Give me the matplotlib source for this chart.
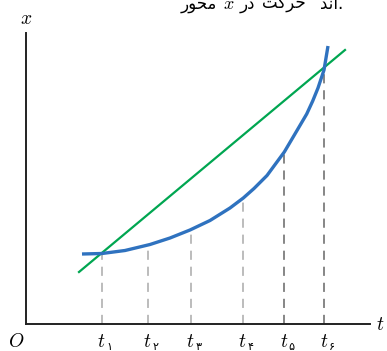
import matplotlib
matplotlib.use('Agg')
import matplotlib.pyplot as plt

plt.rcParams['mathtext.fontset'] = 'cm'

# curve x(t) (arbitrary units, origin at O)
curve_t = [5.6, 7.6, 9.9, 12.4, 14.4, 16.4, 18.4, 20.4, 21.73, 22.8, 24.1,
           25.83, 27.07, 28.07, 28.67, 29.2, 29.8, 30.2]
curve_x = [7.0, 7.05, 7.35, 7.95, 8.6, 9.4, 10.35, 11.6, 12.6, 13.55, 14.85,
           17.2, 19.3, 21.0, 22.3, 23.6, 25.4, 27.8]

# secant line end points
line_t = [5.3, 31.9]
line_x = [5.2, 27.4]

# marked instants and the curve height above each
tick_t = [7.57, 12.17, 16.47, 21.67, 25.83, 29.8]
tick_h = [7.05, 7.9, 9.45, 12.6, 17.2, 25.4]
tick_sub = ['۱', '۲', '۳', '۴', '۵', '۶']
dash_col = ['#aaaaaa', '#aaaaaa', '#aaaaaa', '#aaaaaa', '#666666', '#666666']

# caption fragment cut by the top edge (presentation forms), left-to-right as shown
caption_words = ['ﺭﻮﺤﻣ', 'ﺭﺩ', 'ﺖﻛﺮﺣ', 'ﺪﻧﺍ.']
caption_left = [181, 240, 262, 320]

W, H = 387, 351
fig = plt.figure(figsize=(W / 100, H / 100), dpi=100)
ox, oy = 26, 324          # pixel position of O
right, top = 370, 33
ax = fig.add_axes([ox / W, (H - oy) / H, (right - ox) / W, (oy - top) / H])
ax.set_xlim(0, (right - ox) / 10)
ax.set_ylim(0, (oy - top) / 10)
for s in ['top', 'right']:
    ax.spines[s].set_visible(False)
for s in ['left', 'bottom']:
    ax.spines[s].set_linewidth(1.4)
    ax.spines[s].set_color('#222222')
ax.set_xticks([])
ax.set_yticks([])
ax.patch.set_alpha(0)

for t, h, sub, c in zip(tick_t, tick_h, tick_sub, dash_col):
    ax.plot([t, t], [0, h], color=c, lw=1.1, ls=(0, (6, 4.5)), zorder=1)
    ax.text(t, -0.8, '$t$', fontsize=14, ha='center', va='top', clip_on=False)
    ax.text(t + 0.75, -1.8, sub, fontsize=8, ha='center', va='top',
            family='DejaVu Sans', clip_on=False)

ax.plot(line_t, line_x, color='#00a651', lw=1.6, zorder=2)
ax.plot(curve_t, curve_x, color='#2f72bf', lw=2.4, zorder=3,
        solid_capstyle='butt', solid_joinstyle='round')

ax.text(0, 29.6, '$x$', fontsize=14, ha='center', va='bottom', clip_on=False)
ax.text(35.4, 0, '$t$', fontsize=14, ha='center', va='center', clip_on=False)
ax.text(-1.0, -0.8, '$O$', fontsize=14, ha='center', va='top', clip_on=False)

for word, left in zip(caption_words, caption_left):
    fig.text(left / W, 1 - 9 / H, word, fontsize=12, ha='left',
             va='baseline', family='DejaVu Sans')
fig.text(229 / W, 1 - 9 / H, '$x$', fontsize=13, ha='center', va='baseline')

fig.savefig('out.png', dpi=100)
